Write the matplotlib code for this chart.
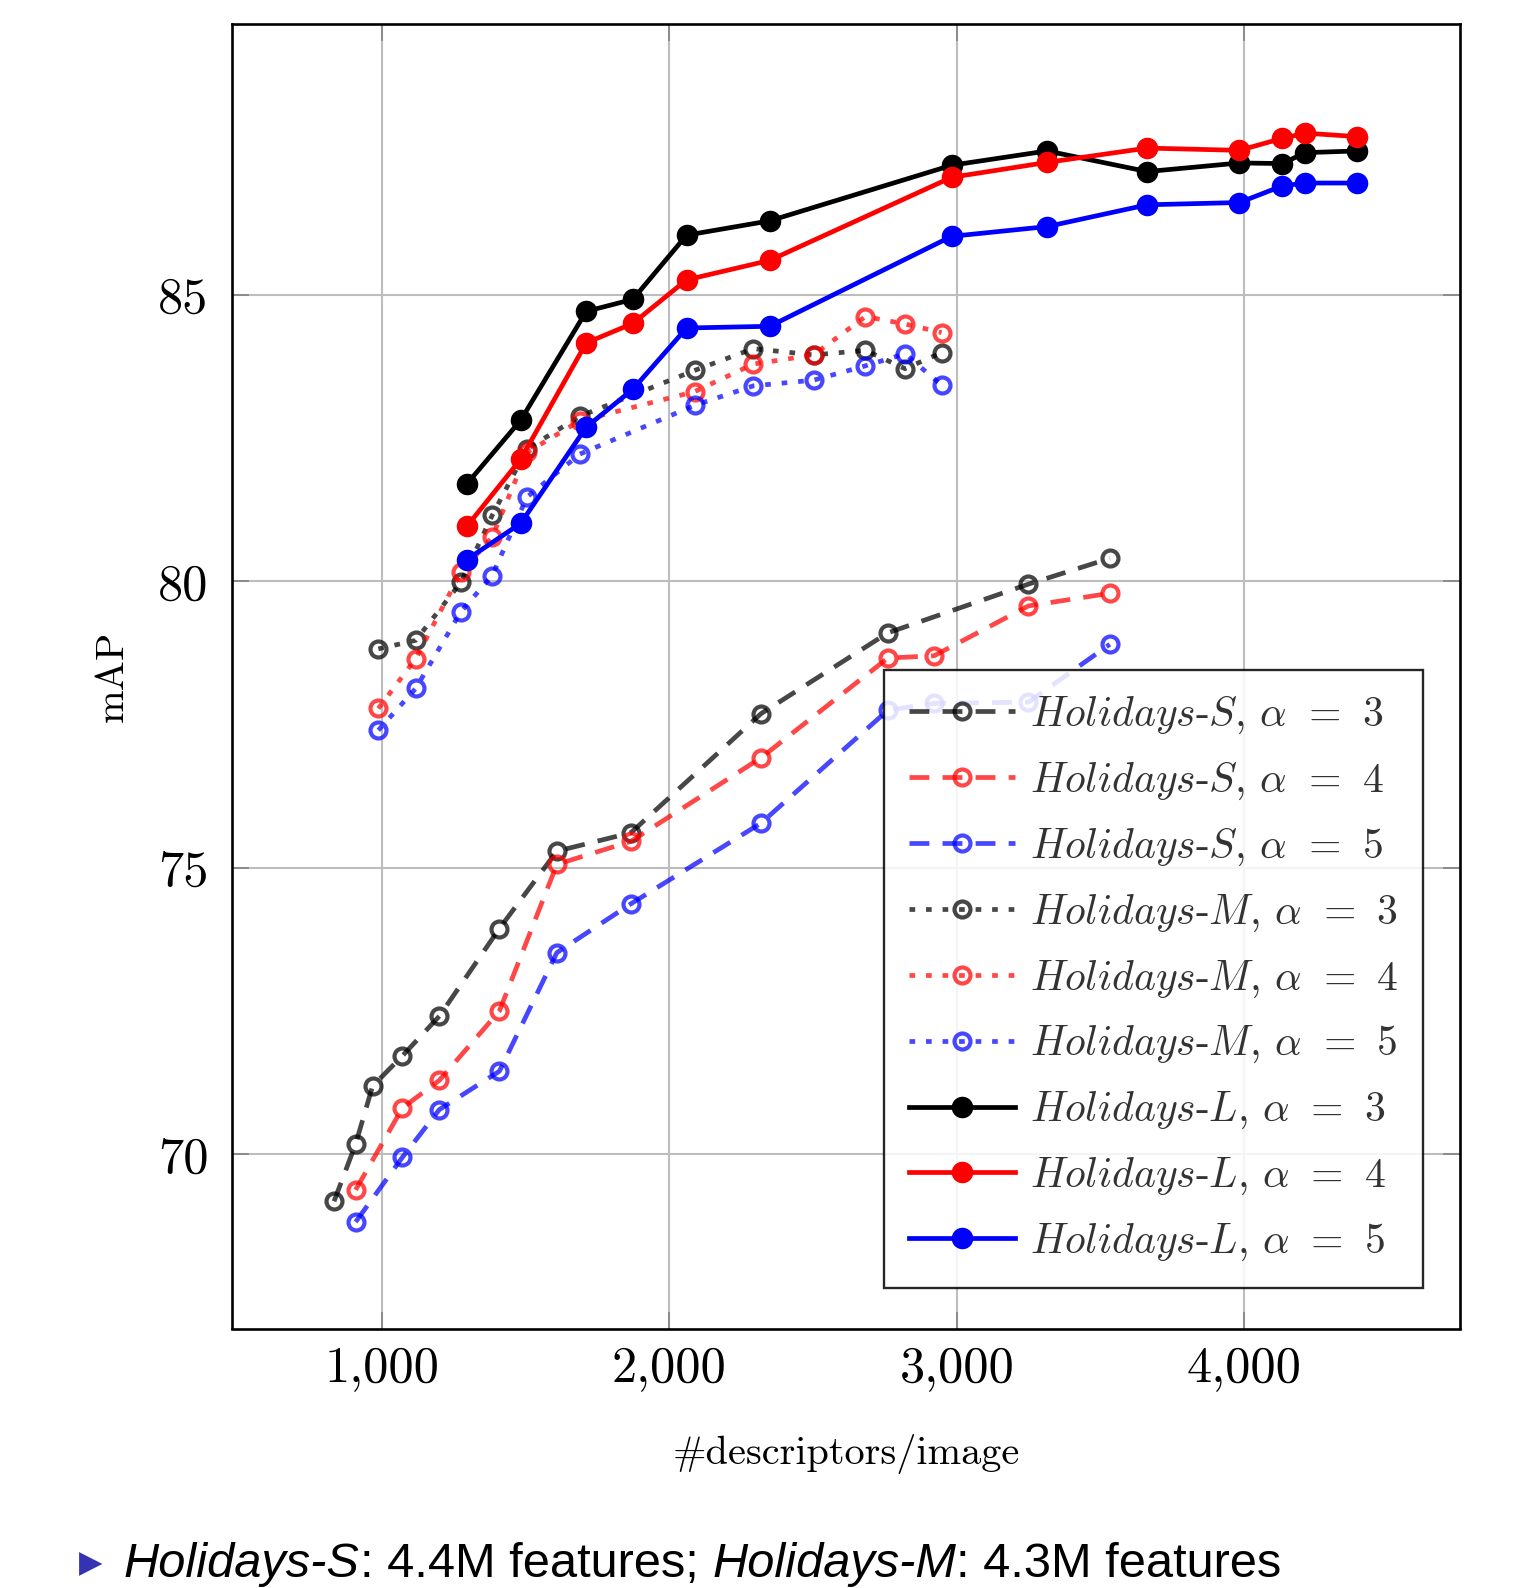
import matplotlib
matplotlib.use('Agg')
import matplotlib.pyplot as plt
from matplotlib.ticker import FixedLocator, FixedFormatter

plt.rcParams.update({
    'font.family': 'cmr10',
    'mathtext.fontset': 'cm',
    'axes.formatter.use_mathtext': True,
})

# ---------------- data ----------------
# Holidays-S (dashed, open markers)
s_x_a3 = [834, 909, 968, 1072, 1200, 1409, 1609, 1866, 2319, 2760, 3249, 3532]
s_y_a3 = [69.18, 70.18, 71.19, 71.72, 72.41, 73.94, 75.29, 75.61, 77.69, 79.10, 79.95, 80.40]
s_x_a45 = [909, 1072, 1200, 1409, 1609, 1866, 2319, 2760, 2921, 3249, 3532]
s_y_a4 = [69.38, 70.81, 71.29, 72.50, 75.06, 75.46, 76.92, 78.66, 78.70, 79.57, 79.79]
s_y_a5 = [68.82, 69.95, 70.78, 71.45, 73.52, 74.37, 75.78, 77.75, 77.87, 77.89, 78.90]

# Holidays-M (dotted, open markers)
m_x = [988, 1118, 1275, 1384, 1505, 1689, 2088, 2292, 2502, 2682, 2820, 2947]
m_y_a3 = [78.82, 78.97, 79.98, 81.15, 82.31, 82.88, 83.68, 84.06, 83.95, 84.03, 83.71, 83.99]
m_y_a4 = [77.78, 78.65, 80.16, 80.77, 82.25, 82.80, 83.31, 83.79, 83.95, 84.62, 84.49, 84.34]
m_y_a5 = [77.40, 78.13, 79.47, 80.10, 81.47, 82.22, 83.07, 83.41, 83.51, 83.76, 83.97, 83.42]

# Holidays-L (solid, filled markers)
l_x = [1296, 1483, 1711, 1873, 2060, 2349, 2982, 3314, 3662, 3983, 4132, 4212, 4393]
l_y_a3 = [81.70, 82.81, 84.71, 84.92, 86.04, 86.29, 87.26, 87.51, 87.15, 87.30, 87.29, 87.48, 87.51]
l_y_a4 = [80.96, 82.13, 84.16, 84.50, 85.26, 85.60, 87.05, 87.31, 87.56, 87.52, 87.73, 87.82, 87.76]
l_y_a5 = [80.38, 81.01, 82.69, 83.35, 84.42, 84.45, 86.02, 86.19, 86.57, 86.61, 86.90, 86.95, 86.95]

x_ticks = [1000, 2000, 3000, 4000]
x_tick_labels = ['1,000', '2,000', '3,000', '4,000']
y_ticks = [70, 75, 80, 85]
y_tick_labels = ['70', '75', '80', '85']

datasets = ['S', 'S', 'S', 'M', 'M', 'M', 'L', 'L', 'L']
alphas = [3, 4, 5, 3, 4, 5, 3, 4, 5]
labels = [r'$\mathit{Holidays}$-$\mathit{%s}$, $\alpha\:\,=\:\,%d\;\:$' % (d, a)
          for d, a in zip(datasets, alphas)]

# ---------------- figure ----------------
W, H = 1527, 1588
fig = plt.figure(figsize=(W / 100, H / 100), dpi=100)
ax = fig.add_axes([232 / W, 1 - 1328.5 / H, 1228 / W, (1328.5 - 24.3) / H])

lw = 3.4
dash = (0, (4.2, 2.8))
dot = (0, (1.2, 2.3))
open_kw = dict(marker='o', markersize=11.5, markeredgewidth=3.0, markerfacecolor='none', alpha=0.72)
fill_kw = dict(marker='o', markersize=14.5, markeredgewidth=1.0)

series = [
    (s_x_a3, s_y_a3, 'black', dash, open_kw),
    (s_x_a45, s_y_a4, 'red', dash, open_kw),
    (s_x_a45, s_y_a5, 'blue', dash, open_kw),
    (m_x, m_y_a3, 'black', dot, open_kw),
    (m_x, m_y_a4, 'red', dot, open_kw),
    (m_x, m_y_a5, 'blue', dot, open_kw),
    (l_x, l_y_a3, 'black', '-', fill_kw),
    (l_x, l_y_a4, 'red', '-', fill_kw),
    (l_x, l_y_a5, 'blue', '-', fill_kw),
]
for (xs, ys, c, ls, kw), lab in zip(series, labels):
    ax.plot(xs, ys, color=c, linestyle=ls, linewidth=lw, label=lab,
            markeredgecolor=c, **kw)

ax.set_xlim(479, 4750)
ax.set_ylim(66.96, 89.72)
ax.xaxis.set_major_locator(FixedLocator(x_ticks))
ax.xaxis.set_major_formatter(FixedFormatter(x_tick_labels))
ax.yaxis.set_major_locator(FixedLocator(y_ticks))
ax.yaxis.set_major_formatter(FixedFormatter(y_tick_labels))

ax.grid(True, color='#bdbdbd', linewidth=1.5)
ax.set_axisbelow(True)
for sp in ax.spines.values():
    sp.set_linewidth(1.9)
    sp.set_color('black')
ax.tick_params(axis='both', direction='in', length=12, width=1.4, color='#8c8c8c',
               labelsize=36.3, top=True, right=True)
ax.tick_params(axis='x', pad=13)
ax.tick_params(axis='y', pad=17)

ax.set_xlabel('#descriptors/image', fontsize=29, va='baseline')
ax.xaxis.set_label_coords(0.5, (1328.5 - 1464) / 1304.2)
ax.set_ylabel('mAP', fontsize=29, va='baseline')
ax.yaxis.set_label_coords((123 - 232) / 1228, 0.5)

leg = ax.legend(loc='lower right', bbox_to_anchor=(0.970, 0.031), borderaxespad=0,
                fontsize=30, handlelength=2.55, handletextpad=0.35, labelspacing=0.589,
                borderpad=0.6, fancybox=False, edgecolor='black', framealpha=0.85,
                numpoints=1)
leg.get_frame().set_linewidth(1.7)
for t in leg.get_texts():
    t.set_color('#333333')

# ---------------- bottom bullet line ----------------
fig.text(79 / W, 1 - 1564 / H, '\u25B6', fontsize=22, color='#3434B2',
         family='DejaVu Sans', va='center', ha='left')

fig.canvas.draw()
renderer = fig.canvas.get_renderer()
fs = 35.1
space_px = 0.278 * fs * 100 / 72
pieces = [('Holidays-S', 'italic', 0), (': 4.4M features;', 'normal', 0),
          ('Holidays-M', 'italic', space_px), (': 4.3M features', 'normal', 0)]
xpix = 124.0
ybase = 1 - 1576.7 / H
for txt, style, gap in pieces:
    xpix += gap
    t = fig.text(xpix / W, ybase, txt, fontsize=fs, family='Liberation Sans',
                 style=style, va='baseline', ha='left', color='black')
    bb = t.get_window_extent(renderer=renderer)
    xpix = bb.x1

fig.savefig('out.png', dpi=100)
